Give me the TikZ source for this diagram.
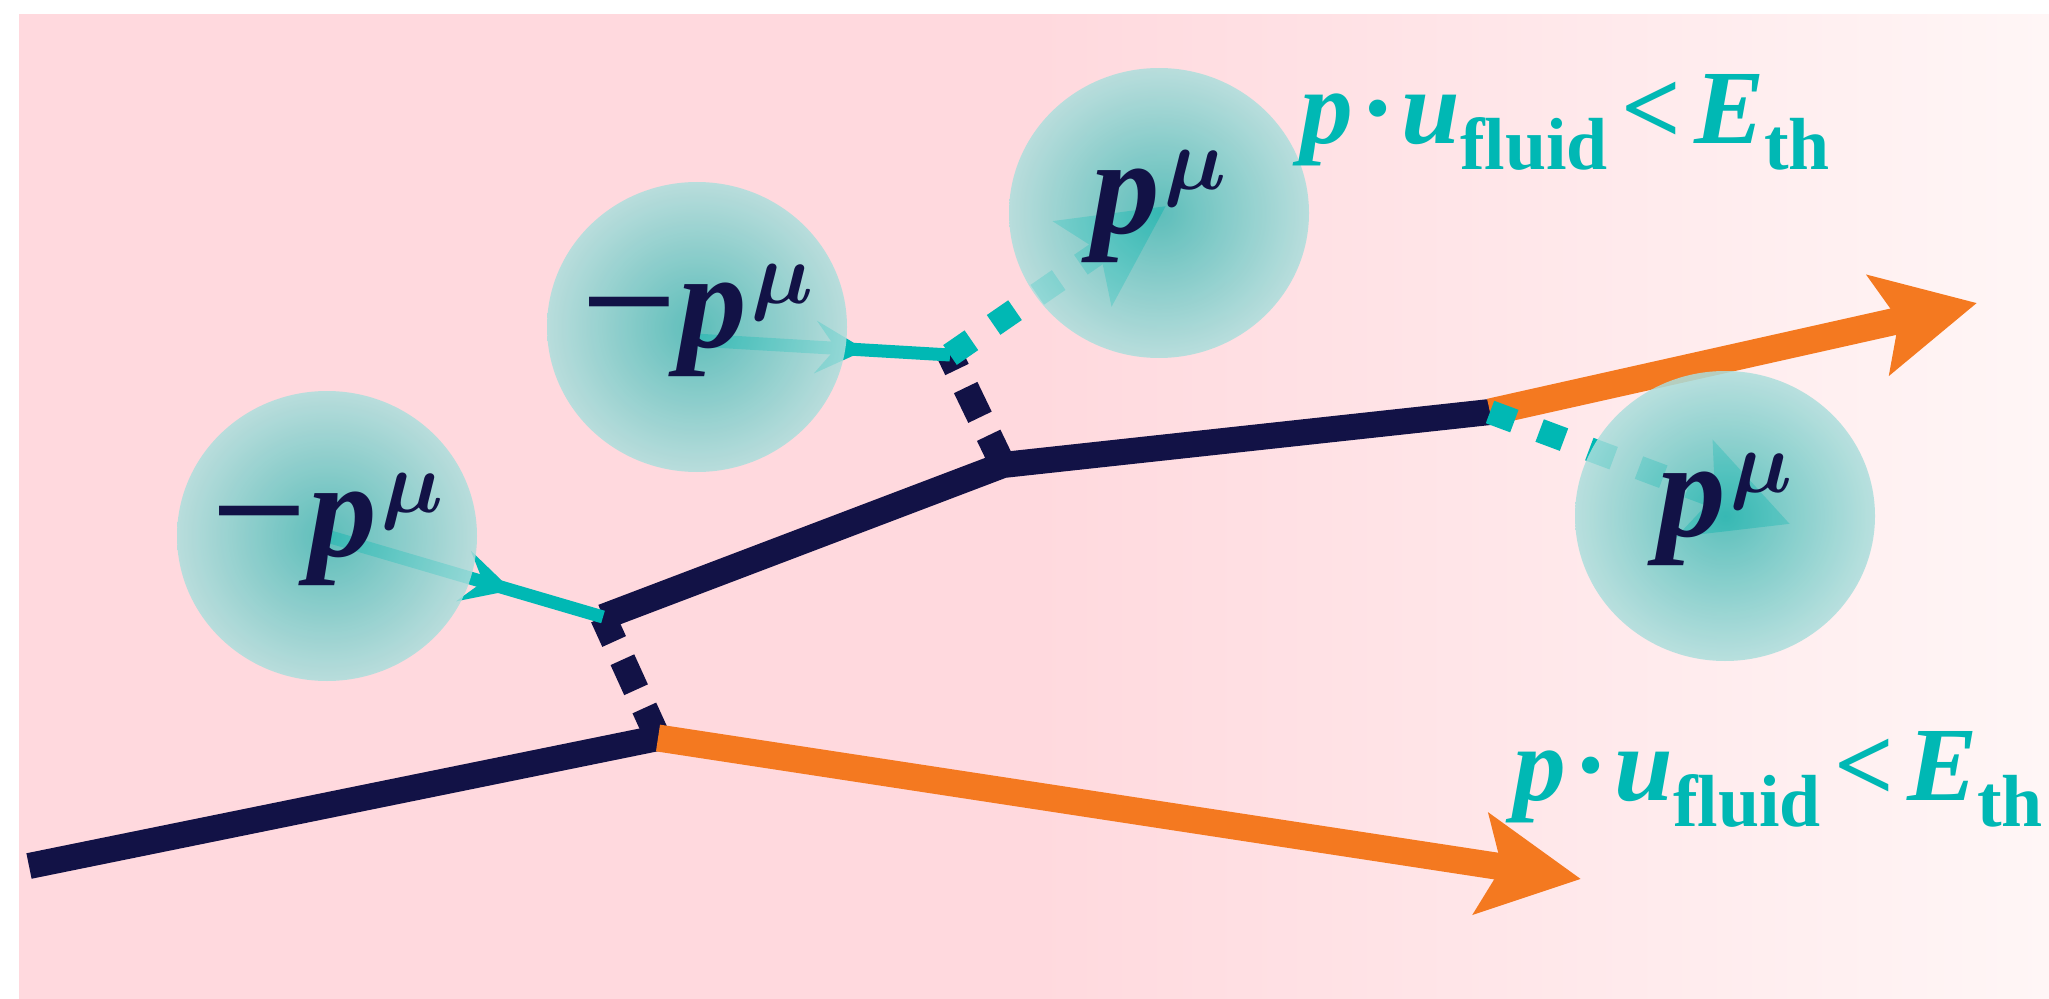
\documentclass[tikz,border=0pt]{standalone}
\usepackage{graphicx}
\usepackage{fontspec}
\setmainfont{Liberation Serif}
\usetikzlibrary{arrows.meta,shapes.geometric,decorations.markings}

\definecolor{bgpink}{HTML}{FFD9DE}
\definecolor{bgfade}{HTML}{FFF6F6}
\definecolor{navyink}{HTML}{121246}
\definecolor{tealink}{HTML}{00B8B4}
\definecolor{orangeink}{HTML}{F47920}
\definecolor{blobin}{HTML}{41B9B4}
\definecolor{blobout}{HTML}{ADDEDC}

% background fades out on the right half
\pgfdeclarehorizontalshading{bgshade}{100bp}{color(0bp)=(bgpink); color(50bp)=(bgpink); color(75bp)=(bgfade); color(100bp)=(bgfade)}

% labels
\newcommand{\supmu}{\raisebox{0.44cm}{\fontsize{34}{34}\selectfont\boldmath$\mu$}}
\newcommand{\negmom}{\fontsize{39}{39}\selectfont\bfseries\scalebox{1.25}[1]{−}\textit{p}\kern0.04cm\supmu}
\newcommand{\posmom}{\fontsize{39}{39}\selectfont\bfseries\textit{p}\kern0.04cm\supmu}
\newcommand{\sublow}[1]{\raisebox{-0.26cm}{\fontsize{21}{21}\selectfont #1}}
\newcommand{\cutoff}{\fontsize{30}{30}\selectfont\bfseries\textit{p}\kern0.07cm·\kern0.06cm\textit{u}\sublow{fluid}\kern0.14cm<\kern0.12cm\textit{E}\sublow{th}}

\begin{document}
\begin{tikzpicture}[x=1cm,y=-1cm,
    darkline/.style={navyink,line width=0.26cm},
    darkdash/.style={navyink,line width=0.26cm,dash pattern=on 0.33cm off 0.2cm},
    outarrow/.style={orangeink,line width=0.27cm,-{Stealth[length=1cm,width=1cm,inset=0.2cm]}},
    tealdash/.style={tealink,line width=0.24cm,dash pattern=on 0.26cm off 0.27cm,-{Stealth[length=1cm,width=1cm,inset=0.2cm]}},
    tealarrow/.style={tealink,line width=0.13cm,postaction={decorate},
        decoration={markings,mark=at position 0.67 with {\arrow{Stealth[length=0.5cm,width=0.52cm,inset=0.2cm]}}}},
    blob/.style={ellipse,minimum width=3cm,minimum height=2.9cm,inner sep=0pt,
        inner color=blobin,outer color=blobout,fill opacity=0.85},
    momtext/.style={inner sep=0pt,text=navyink,yshift=0.06cm},
    cutlabel/.style={anchor=base west,inner sep=0pt,text=tealink}]
    \useasboundingbox (0,0) rectangle (20.49,9.99);
    \shade[shading=bgshade] (0.19,0.15) rectangle (20.49,9.99);

    % vertices
    \coordinate (s0) at (0.29,8.66);
    \coordinate (va) at (6.58,7.38);
    \coordinate (vb) at (6.03,6.17);
    \coordinate (vc) at (10.03,4.65);
    \coordinate (vd) at (9.50,3.55);
    \coordinate (ve) at (14.90,4.12);
    \coordinate (ta) at (15.81,8.79);
    \coordinate (tb) at (19.77,3.03);
    % blob centres
    \coordinate (c1) at (3.27,5.36);
    \coordinate (c2) at (6.97,3.27);
    \coordinate (c3) at (11.59,2.13);
    \coordinate (c4) at (17.25,5.16);
    \coordinate (p2) at (6.95,3.40);
    \coordinate (e3) at (11.66,2.06);
    \coordinate (e4) at (17.90,5.24);

    \draw[darkline] (s0) -- (va);
    \draw[darkline] (vb) -- (vc) -- (ve);
    \draw[darkdash] (va) -- (vb);
    \draw[darkdash] (vc) -- (vd);
    \draw[outarrow] (va) -- (ta);
    \draw[outarrow] (ve) -- (tb);
    \draw[tealarrow] (c1) -- (vb);
    \draw[tealarrow] (p2) -- (vd);
    \draw[tealdash] (vd) -- (e3);
    \draw[tealdash] (ve) -- (e4);

    \node[blob] (b1) at (c1) {};
    \node[blob] (b2) at (c2) {};
    \node[blob] (b3) at (c3) {};
    \node[blob] (b4) at (c4) {};
    \node[momtext] (m1) at (c1) {\negmom};
    \node[momtext] (m2) at (c2) {\negmom};
    \node[momtext] (m3) at (c3) {\posmom};
    \node[momtext] (m4) at (c4) {\posmom};

    \node[cutlabel] (l1) at (13.00,1.44) {\cutoff};
    \node[cutlabel] (l2) at (15.13,8.00) {\cutoff};
\end{tikzpicture}
\end{document}
